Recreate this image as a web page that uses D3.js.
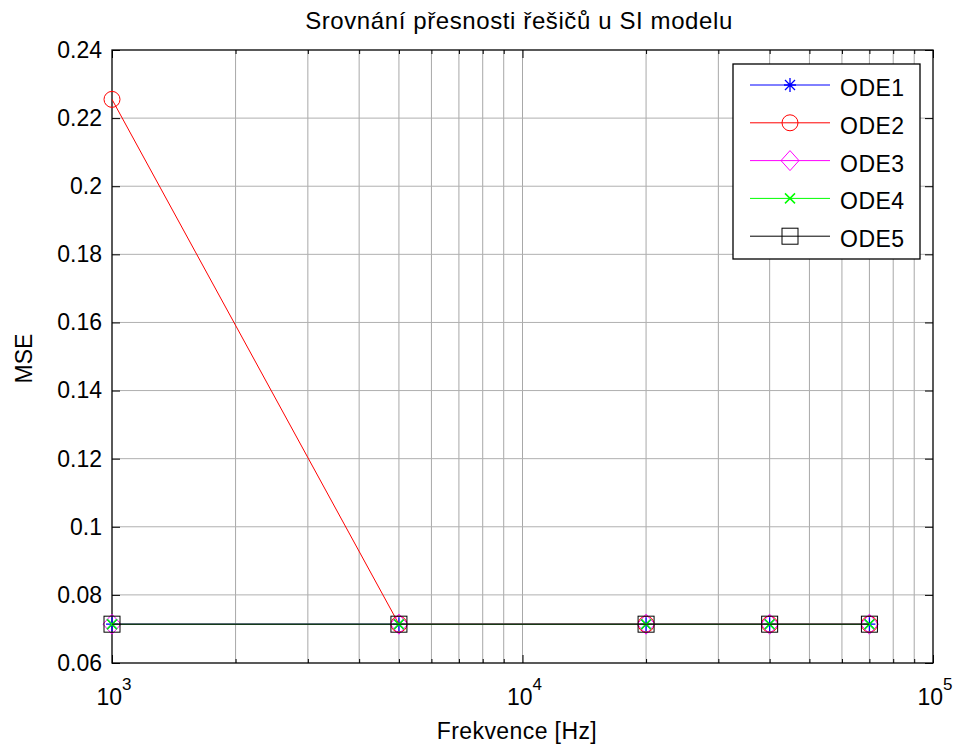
<!DOCTYPE html>
<html>
<head>
<meta charset="utf-8">
<script src="https://cdn.jsdelivr.net/npm/d3@7"></script>
<style>
  body { margin: 0; background: #fff; }
  svg { font-family: 'Liberation Sans', Arial, sans-serif; }
</style>
</head>
<body>
<div class="canvas"></div>
<script>
const width = 954, height = 747

// data
const freq = [1000, 5000, 20000, 40000, 70000]
const ode1 = [0.0714, 0.0714, 0.0714, 0.0714, 0.0714]
const ode2 = [0.2255, 0.0714, 0.0714, 0.0714, 0.0714]
const ode3 = [0.0714, 0.0714, 0.0714, 0.0714, 0.0714]
const ode4 = [0.0714, 0.0714, 0.0714, 0.0714, 0.0714]
const ode5 = [0.0714, 0.0714, 0.0714, 0.0714, 0.0714]
const names = ['ODE1', 'ODE2', 'ODE3', 'ODE4', 'ODE5']
const colors = ['#0000ff', '#ff0000', '#ff00ff', '#00ff00', '#000000']
const markers = ['star', 'circle', 'diamond', 'cross', 'square']

const yTicks = [0.06, 0.08, 0.1, 0.12, 0.14, 0.16, 0.18, 0.2, 0.22, 0.24]
const yTickLabels = ['0.06', '0.08', '0.1', '0.12', '0.14', '0.16', '0.18', '0.2', '0.22', '0.24']
const xTicks = [1e3, 1e4, 1e5]
const xTickExp = ['3', '4', '5']
const xMinor = [2e3, 3e3, 4e3, 5e3, 6e3, 7e3, 8e3, 9e3, 2e4, 3e4, 4e4, 5e4, 6e4, 7e4, 8e4, 9e4]

const series = [ode1, ode2, ode3, ode4, ode5]

const [mt, mr, mb, ml] = [50, 21, 84, 112]
const gw = width - ml - mr
const gh = height - mt - mb

const svg = d3.select('.canvas').append('svg').attr('width', width).attr('height', height)

const x = d3.scaleLog().domain([1e3, 1e5]).range([0, gw])
const y = d3.scaleLinear().domain([0.06, 0.24]).range([gh, 0])

const graph = svg.append('g').attr('transform', `translate(${ml}, ${mt})`)

// grid
graph.append('g').selectAll('line.gx')
    .data(xMinor.concat([1e4]))
    .enter().append('line')
    .attr('x1', d => x(d)).attr('x2', d => x(d))
    .attr('y1', 0).attr('y2', gh)
    .attr('stroke', '#a8a8a8').attr('stroke-width', 1)
graph.append('g').selectAll('line.gy')
    .data(yTicks.slice(1, -1))
    .enter().append('line')
    .attr('x1', 0).attr('x2', gw)
    .attr('y1', d => y(d)).attr('y2', d => y(d))
    .attr('stroke', '#b0b0b0').attr('stroke-width', 1)

// axes, ticks pointing inward
const styleAxis = g => {
    g.select('.domain').remove()
    g.selectAll('.tick line').attr('stroke', '#000')
}
graph.append('g').attr('transform', `translate(0, ${gh})`)
    .call(d3.axisBottom(x).tickValues(xTicks).tickSize(-8).tickFormat(() => '')).call(styleAxis)
graph.append('g').attr('transform', `translate(0, ${gh})`)
    .call(d3.axisBottom(x).tickValues(xMinor).tickSize(-4).tickFormat(() => '')).call(styleAxis)
graph.append('g')
    .call(d3.axisTop(x).tickValues(xTicks).tickSize(-8).tickFormat(() => '')).call(styleAxis)
graph.append('g')
    .call(d3.axisTop(x).tickValues(xMinor).tickSize(-4).tickFormat(() => '')).call(styleAxis)

const yAxisG = graph.append('g')
    .call(d3.axisLeft(y).tickValues(yTicks).tickSize(-8).tickPadding(10)
        .tickFormat((d, i) => yTickLabels[i])).call(styleAxis)
yAxisG.selectAll('text').attr('font-size', 23).attr('fill', '#000')
    .attr('font-family', "'Liberation Sans', Arial, sans-serif")
graph.append('g').attr('transform', `translate(${gw}, 0)`)
    .call(d3.axisRight(y).tickValues(yTicks).tickSize(-8).tickFormat(() => '')).call(styleAxis)

// x tick labels 10^n
const xl = graph.append('g').selectAll('text.xl')
    .data(xTicks)
    .enter().append('text')
    .attr('x', d => x(d) + 2)
    .attr('y', gh + 42)
    .attr('text-anchor', 'middle')
    .attr('font-size', 23)
xl.append('tspan').text('10')
xl.append('tspan').attr('dy', -15).attr('font-size', 17).text((d, i) => xTickExp[i])

// box
graph.append('rect').attr('width', gw).attr('height', gh)
    .attr('fill', 'none').attr('stroke', '#000').attr('stroke-width', 1.3)

// marker drawing
const drawMarker = (g, type, color, cx, cy) => {
    if (type === 'circle') {
        g.append('circle').attr('cx', cx).attr('cy', cy).attr('r', 8)
            .attr('fill', 'none').attr('stroke', color)
    } else if (type === 'square') {
        g.append('rect').attr('x', cx - 8).attr('y', cy - 8).attr('width', 16).attr('height', 16)
            .attr('fill', 'none').attr('stroke', color)
    } else if (type === 'diamond') {
        g.append('path').attr('d', `M${cx},${cy - 10}L${cx + 9},${cy}L${cx},${cy + 10}L${cx - 9},${cy}Z`)
            .attr('fill', 'none').attr('stroke', color)
    } else if (type === 'cross') {
        g.append('path').attr('d', `M${cx - 5},${cy - 5}L${cx + 5},${cy + 5}M${cx - 5},${cy + 5}L${cx + 5},${cy - 5}`)
            .attr('fill', 'none').attr('stroke', color).attr('stroke-width', 1.5)
    } else if (type === 'star') {
        g.append('path').attr('d', `M${cx - 6},${cy}L${cx + 6},${cy}M${cx},${cy - 7}L${cx},${cy + 7}M${cx - 5},${cy - 5}L${cx + 5},${cy + 5}M${cx - 5},${cy + 5}L${cx + 5},${cy - 5}`)
            .attr('fill', 'none').attr('stroke', color).attr('stroke-width', 1.3)
    }
}

// series
const line = d3.line().x(d => x(d[0])).y(d => y(d[1]))
series.forEach((vals, si) => {
    const pts = freq.map((f, i) => [f, vals[i]])
    const g = graph.append('g')
    g.append('path').datum(pts).attr('d', line)
        .attr('fill', 'none').attr('stroke', colors[si]).attr('stroke-width', 1)
    pts.forEach(p => drawMarker(g, markers[si], colors[si], x(p[0]), y(p[1])))
})

// legend
const legend = svg.append('g').attr('transform', 'translate(733, 64)')
legend.append('rect').attr('width', 187).attr('height', 195)
    .attr('fill', '#fff').attr('stroke', '#000').attr('stroke-width', 1.3)
names.forEach((n, i) => {
    const ly = 21 + i * 37.8
    legend.append('line').attr('x1', 17).attr('x2', 97).attr('y1', ly).attr('y2', ly)
        .attr('stroke', colors[i]).attr('stroke-width', 1)
    drawMarker(legend, markers[i], colors[i], 57, ly)
    legend.append('text').attr('x', 107).attr('y', ly + 11)
        .attr('font-size', 23).attr('letter-spacing', 0.5).text(n)
})

// title and labels
svg.append('text').attr('x', 519).attr('y', 29)
    .attr('text-anchor', 'middle').attr('font-size', 24).attr('letter-spacing', 0.6)
    .text('Srovnání přesnosti řešičů u SI modelu')
svg.append('text').attr('x', 517).attr('y', 739)
    .attr('text-anchor', 'middle').attr('font-size', 23).attr('letter-spacing', 0.4)
    .text('Frekvence [Hz]')
svg.append('text')
    .attr('transform', `translate(32, ${mt + gh / 2 + 2}) rotate(-90)`)
    .attr('text-anchor', 'middle').attr('font-size', 23)
    .text('MSE')
</script>
</body>
</html>
